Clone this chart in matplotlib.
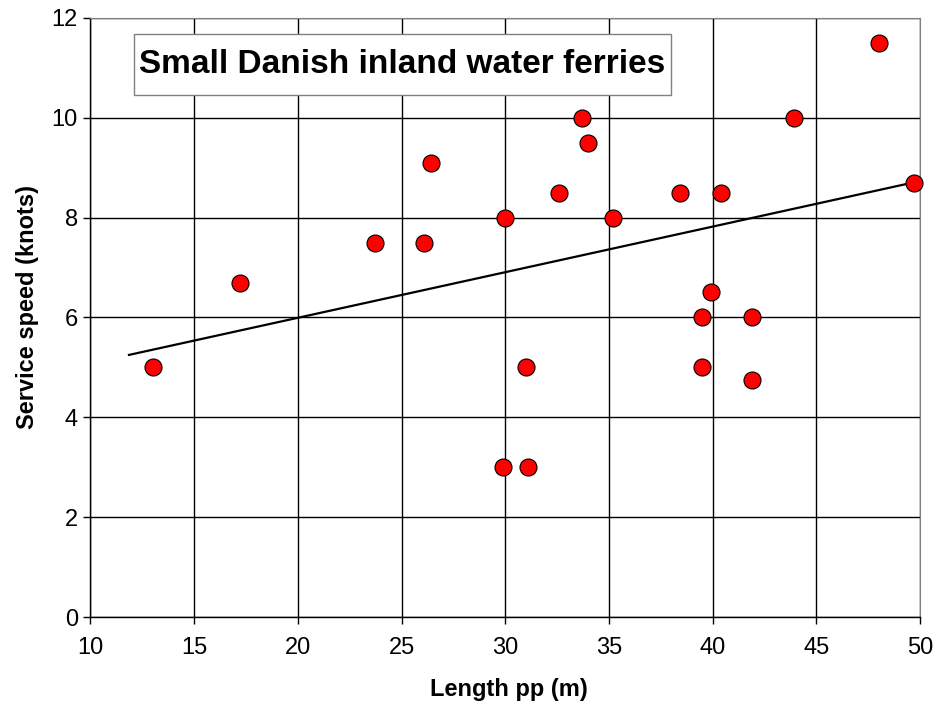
import matplotlib
matplotlib.use("Agg")
from matplotlib import pyplot as plt
from matplotlib.patches import Rectangle

# Ferry length between perpendiculars (m) and service speed (knots)
length_pp = [13.0, 17.2, 23.7, 26.1, 26.4, 29.9, 30.0, 31.0, 31.1, 32.6, 33.7, 34.0,
             35.2, 38.4, 39.5, 39.5, 39.9, 40.4, 41.9, 41.9, 43.9, 48.0, 49.7]
speed_kn = [5.0, 6.7, 7.5, 7.5, 9.1, 3.0, 8.0, 5.0, 3.0, 8.5, 10.0, 9.5,
            8.0, 8.5, 6.0, 5.0, 6.5, 8.5, 6.0, 4.75, 10.0, 11.5, 8.7]

# Linear trend line end points
trend_len = [11.86, 49.97]
trend_speed = [5.25, 8.73]

x_ticks = [10, 15, 20, 25, 30, 35, 40, 45, 50]
y_ticks = [0, 2, 4, 6, 8, 10, 12]

plt.rcParams['font.family'] = ['Liberation Sans', 'DejaVu Sans']

fig = plt.figure(figsize=(9.37, 7.13), dpi=100)
ax = fig.add_axes([0.0965, 0.1345, 0.8855, 0.8405])

ax.set_xlim(10, 50)
ax.set_ylim(0, 12)
ax.set_xticks(x_ticks)
ax.set_yticks(y_ticks)
ax.grid(True, color='black', linewidth=1.0)
ax.set_axisbelow(True)

ax.plot(trend_len, trend_speed, color='black', linewidth=1.6, zorder=3)
ax.scatter(length_pp, speed_kn, s=150, c='#ff0000', edgecolors='black',
           linewidths=0.8, zorder=4, clip_on=False)

for side in ['top', 'right']:
    ax.spines[side].set_color('#808080')
for side in ['left', 'bottom']:
    ax.spines[side].set_color('black')
    ax.spines[side].set_linewidth(1.0)

ax.tick_params(axis='both', direction='out', length=5, width=1.0,
               labelsize=17, colors='black', pad=4)
ax.tick_params(axis='x', pad=9)

ax.set_xlabel('Length pp (m)', fontsize=17, fontweight='bold', labelpad=14, x=0.504)
ax.set_ylabel('Service speed (knots)', fontsize=17, fontweight='bold', labelpad=9, y=0.518)

# Title box inside the plot area
ax.add_patch(Rectangle((0.0525, 0.8715), 0.6473, 0.1018, transform=ax.transAxes,
                       facecolor='white', edgecolor='#808080', linewidth=1.0, zorder=5))
ax.text(0.3762, 0.9224, 'Small Danish inland water ferries', transform=ax.transAxes,
        ha='center', va='center', fontsize=24, fontweight='bold', zorder=6)

fig.savefig('out.png', dpi=100)
